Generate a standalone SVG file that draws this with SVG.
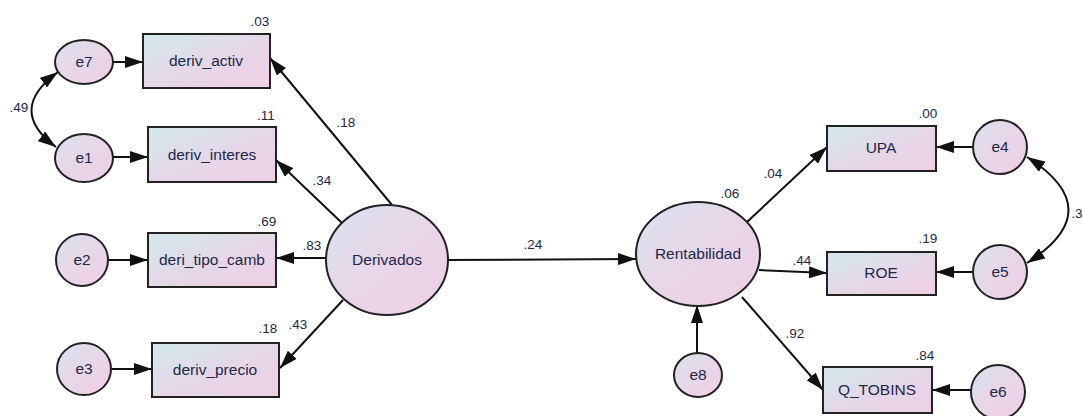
<svg xmlns="http://www.w3.org/2000/svg" width="1083" height="416" viewBox="0 0 1083 416">
<defs>
<linearGradient id="gr" x1="0" y1="0" x2="1" y2="1"><stop offset="0" stop-color="#d2eaec"/><stop offset="0.55" stop-color="#e6d6e8"/><stop offset="1" stop-color="#efcfe6"/></linearGradient>
<linearGradient id="ge" x1="0" y1="0" x2="1" y2="1"><stop offset="0" stop-color="#d9e2ee"/><stop offset="0.5" stop-color="#e8d6e8"/><stop offset="1" stop-color="#efcfe6"/></linearGradient>
<marker id="ah" viewBox="0 0 18 12" refX="18" refY="6" markerWidth="18" markerHeight="12" markerUnits="userSpaceOnUse" orient="auto-start-reverse"><path d="M0,0 L18,6 L0,12 z" fill="#111"/></marker>
</defs>
<style>
rect{fill:url(#gr);stroke:#222;stroke-width:2}
ellipse{fill:url(#ge);stroke:#222;stroke-width:2}
.lbl{font-family:"Liberation Sans",Arial,sans-serif;font-size:15.5px;fill:#1e2848;text-anchor:middle}
.num{font-family:"Liberation Sans",Arial,sans-serif;font-size:13.5px;fill:#1e2848;text-anchor:middle}
.c line,.c path{stroke:#111;stroke-width:2;fill:none;marker-end:url(#ah)}
.c path.cov{marker-start:url(#ah)}
</style>
<g class="c" id="connectors">
<line x1="113" y1="62" x2="143" y2="62"/>
<line x1="113" y1="157" x2="148" y2="157"/>
<line x1="107" y1="260" x2="148" y2="260"/>
<line x1="111" y1="369" x2="152" y2="369"/>
<line x1="392" y1="205" x2="270" y2="58"/>
<line x1="342" y1="223" x2="276" y2="160"/>
<line x1="326" y1="258" x2="276" y2="258"/>
<line x1="343" y1="300" x2="280" y2="368"/>
<line x1="447" y1="260" x2="636" y2="259"/>
<line x1="747" y1="222" x2="827" y2="147"/>
<line x1="759" y1="270" x2="827" y2="273"/>
<line x1="742" y1="297" x2="823" y2="390"/>
<line x1="697" y1="353" x2="697" y2="305"/>
<line x1="973" y1="147" x2="936" y2="147"/>
<line x1="974" y1="272" x2="936" y2="272"/>
<line x1="972" y1="390" x2="932" y2="390"/>
<path class="cov" d="M58,72 Q6,110 56,147"/>
<path class="cov" d="M1027,157 Q1110,210 1027,263"/>
</g>
<g id="e7"><ellipse cx="84" cy="62" rx="29" ry="22"/><text class="lbl" x="84" y="67">e7</text></g>
<g id="e1"><ellipse cx="84" cy="158" rx="29" ry="24"/><text class="lbl" x="84" y="163">e1</text></g>
<g id="e2"><ellipse cx="82" cy="260" rx="26" ry="26"/><text class="lbl" x="82" y="265">e2</text></g>
<g id="e3"><ellipse cx="84" cy="369" rx="27" ry="26"/><text class="lbl" x="84" y="374">e3</text></g>
<g id="deriv_activ"><rect x="143" y="34" width="127" height="54"/><text class="lbl" x="206" y="66">deriv_activ</text><text class="num" x="260" y="26">.03</text></g>
<g id="deriv_interes"><rect x="148" y="127" width="128" height="55"/><text class="lbl" x="212" y="160">deriv_interes</text><text class="num" x="266" y="120">.11</text></g>
<g id="deri_tipo_camb"><rect x="148" y="233" width="128" height="54"/><text class="lbl" x="212" y="265">deri_tipo_camb</text><text class="num" x="267" y="226">.69</text></g>
<g id="deriv_precio"><rect x="152" y="343" width="127" height="54"/><text class="lbl" x="215" y="375">deriv_precio</text><text class="num" x="268" y="333">.18</text></g>
<g id="Derivados"><ellipse cx="387" cy="260" rx="61" ry="55"/><text class="lbl" x="387" y="265">Derivados</text></g>
<g id="Rentabilidad"><ellipse cx="698" cy="254" rx="62" ry="52"/><text class="lbl" x="698" y="259">Rentabilidad</text><text class="num" x="730" y="198">.06</text></g>
<g id="e8"><ellipse cx="698" cy="375" rx="24" ry="22"/><text class="lbl" x="698" y="380">e8</text></g>
<g id="UPA"><rect x="827" y="126" width="109" height="45"/><text class="lbl" x="881" y="153">UPA</text><text class="num" x="928" y="118">.00</text></g>
<g id="ROE"><rect x="827" y="252" width="109" height="43"/><text class="lbl" x="881" y="278">ROE</text><text class="num" x="928" y="243">.19</text></g>
<g id="Q_TOBINS"><rect x="823" y="367" width="109" height="46"/><text class="lbl" x="877" y="395">Q_TOBINS</text><text class="num" x="925" y="360">.84</text></g>
<g id="e4"><ellipse cx="1000" cy="147" rx="27" ry="27"/><text class="lbl" x="1000" y="152">e4</text></g>
<g id="e5"><ellipse cx="1000" cy="272" rx="27" ry="27"/><text class="lbl" x="1000" y="277">e5</text></g>
<g id="e6"><ellipse cx="998" cy="392" rx="27" ry="27"/><text class="lbl" x="998" y="397">e6</text></g>
<g id="edge-labels">
<text class="num" x="19" y="112">.49</text>
<text class="num" x="346" y="127">.18</text>
<text class="num" x="322" y="185">.34</text>
<text class="num" x="312" y="250">.83</text>
<text class="num" x="298" y="329">.43</text>
<text class="num" x="533" y="249">.24</text>
<text class="num" x="773" y="178">.04</text>
<text class="num" x="802" y="265">.44</text>
<text class="num" x="795" y="338">.92</text>
<text class="num" x="1077" y="218">.3</text>
</g>
</svg>
